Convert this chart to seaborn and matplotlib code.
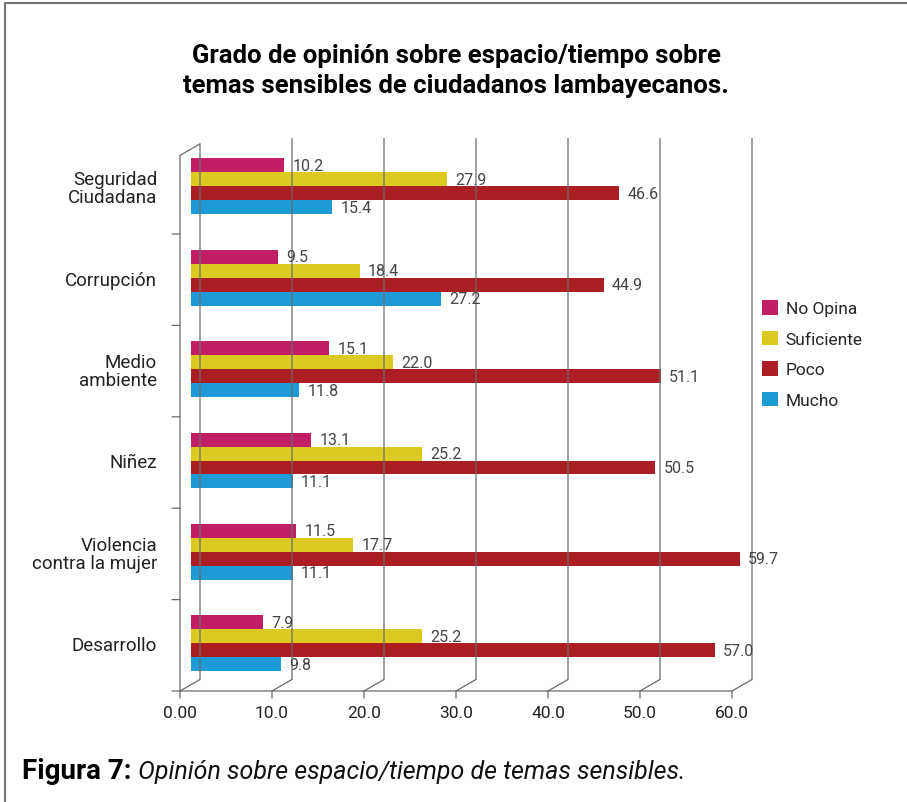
import numpy as np
import pandas as pd
import matplotlib
matplotlib.use("Agg")
import matplotlib.pyplot as plt
import matplotlib.transforms as mtransforms
from matplotlib.patches import Patch, ConnectionPatch
from matplotlib.lines import Line2D
import seaborn as sns

# ── Data ─────────────────────────────────────────────────────────
categories = ["Seguridad\nCiudadana", "Corrupción", "Medio\nambiente",
              "Niñez", "Violencia\ncontra la mujer", "Desarrollo"]
series = ["No Opina", "Suficiente", "Poco", "Mucho"]
no_opina = [10.2, 9.5, 15.1, 13.1, 11.5, 7.9]
suficiente = [27.9, 18.4, 22.0, 25.2, 17.7, 25.2]
poco = [46.6, 44.9, 51.1, 50.5, 59.7, 57.0]
mucho = [15.4, 27.2, 11.8, 11.1, 11.1, 9.8]
colors = ["#C21E66", "#DCC922", "#AA1E24", "#1E9BD7"]
x_ticks = [0, 10, 20, 30, 40, 50, 60]
x_tick_labels = ["0.00", "10.0", "20.0", "30.0", "40.0", "50.0", "60.0"]

df = pd.DataFrame({
    "tema": categories * len(series),
    "grupo": np.repeat(series, len(categories)),
    "valor": no_opina + suficiente + poco + mucho,
})

sns.set_theme(style="white")
plt.rcParams["font.family"] = ["Roboto", "DejaVu Sans"]

fig = plt.figure(figsize=(9.07, 8.03), dpi=100)
ax = fig.add_axes([190.5 / 907, 113 / 803, 552 / 907, 548.4 / 803])

sns.barplot(data=df, y="tema", x="valor", hue="grupo", order=categories,
            hue_order=series, palette=colors, width=0.61, orient="h",
            saturation=1, errorbar=None, linewidth=0, legend=False, ax=ax)

ax.set_xlim(x_ticks[0], x_ticks[-1])
ax.set_ylim(len(categories) - 0.5, -0.5)
for sp in ax.spines.values():
    sp.set_visible(False)
ax.set_xlabel("")
ax.set_ylabel("")

for cont in ax.containers:
    ax.bar_label(cont, fmt="%.1f", padding=6, fontsize=11.5, color="#444444")

# ── pseudo-3D frame ──────────────────────────────────────────────
front = mtransforms.offset_copy(ax.transData, fig=fig, x=-10.5, y=-2, units="dots")
back = mtransforms.offset_copy(ax.transData, fig=fig, x=9.5, y=9.5, units="dots")
tick_left = mtransforms.offset_copy(ax.transData, fig=fig, x=-18.5, y=-2, units="dots")
tick_down = mtransforms.offset_copy(ax.transData, fig=fig, x=-10.5, y=-9, units="dots")
line_col = "#6b6b6b"


def seg(p, tp, q, tq):
    ax.add_artist(ConnectionPatch(xyA=p, coordsA=tp, xyB=q, coordsB=tq,
                                  arrowstyle="-", color=line_col, lw=0.9,
                                  clip_on=False))


y_bot = len(categories) - 0.5
wall_top = -0.36
grid_top = -0.42

for v in x_ticks:
    top = wall_top if v == x_ticks[0] else grid_top
    seg((v, y_bot), back, (v, top), back)          # back wall gridline
    seg((v, y_bot), front, (v, y_bot), back)       # floor diagonal
    seg((v, y_bot), front, (v, y_bot), tick_down)  # tick mark

seg((x_ticks[0], y_bot), front, (x_ticks[-1], y_bot), front)   # front axis
seg((0, y_bot), front, (0, wall_top), front)                   # left wall front edge
seg((0, wall_top), front, (0, wall_top), back)                 # left wall top
for b in np.arange(0.5, len(categories), 1.0):
    seg((0, b), front, (0, b), tick_left)

# ticks / labels
ax.set_xticks(x_ticks, x_tick_labels)
ax.tick_params(axis="x", length=0, pad=11.5, labelsize=12.5, labelcolor="#222222")
ax.tick_params(axis="y", length=0, pad=24, labelsize=13.5, labelcolor="#222222")
shift = mtransforms.ScaledTranslation(-10.5 / 100, 0, fig.dpi_scale_trans)
for lab in ax.get_xticklabels():
    lab.set_transform(lab.get_transform() + shift)
for lab in ax.get_yticklabels():
    lab.set_linespacing(1.0)

# legend
handles = [Patch(facecolor=c, edgecolor="none", label=s) for s, c in zip(series, colors)]
fig.legend(handles=handles, loc="upper left", bbox_to_anchor=(762 / 907, 1 - 301 / 803),
           frameon=False, fontsize=12.5, handlelength=0.92, handleheight=0.92,
           handletextpad=0.45, labelspacing=0.82, borderpad=0, borderaxespad=0)

# title & caption
fig.text(456 / 907, 1 - 71 / 803,
         "Grado de opinión sobre espacio/tiempo sobre\ntemas sensibles de ciudadanos lambayecanos.",
         ha="center", va="center", fontsize=18.5, fontweight="bold", color="#000000",
         linespacing=1.3)
cap = fig.text(22 / 907, 1 - 772 / 803, "Figura 7:", ha="left", va="center",
               fontsize=20, fontweight="bold", color="#000000")
ax.annotate(" Opinión sobre espacio/tiempo de temas sensibles.", xy=(1, 0.5),
            xycoords=cap, ha="left", va="center", fontsize=18, style="italic",
            color="#111111", annotation_clip=False)

# border
fig.add_artist(Line2D([5 / 907, 1], [1 - 4 / 803] * 2, transform=fig.transFigure,
                      color="#777777", lw=1.6))
fig.add_artist(Line2D([5 / 907] * 2, [0, 1 - 4 / 803], transform=fig.transFigure,
                      color="#777777", lw=1.6))

fig.savefig("out.png", dpi=100)
